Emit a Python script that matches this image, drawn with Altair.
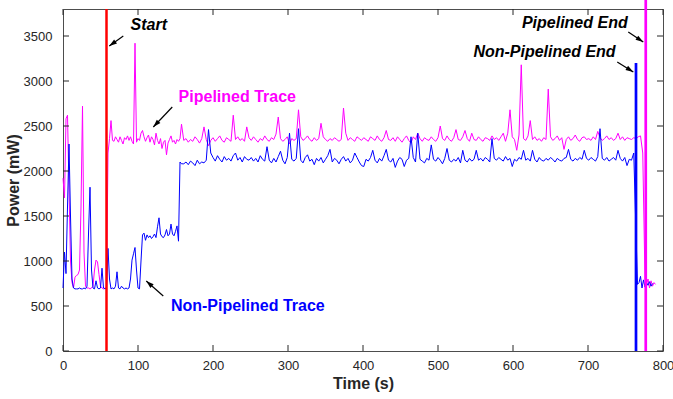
import math
import altair as alt
import pandas as pd

# ---------------- data ----------------
early_time = [0, 2, 4, 6, 8, 10, 12, 14, 16, 18, 20, 22, 24, 26, 28, 30, 32, 34, 36, 38,
              40, 42, 44, 46, 48, 50, 52, 54, 56, 58, 60, 62, 64, 66, 68, 70, 72, 74, 76, 78,
              80, 82, 84, 86, 88, 90, 92, 94, 96, 98, 100, 102, 104, 106, 108, 110, 112, 114, 116, 118,
              120, 122, 124, 126, 128, 130, 132, 134, 136, 138, 140, 142, 144, 146, 148, 150, 152, 154, 156, 158]

main_time = [161, 164, 167, 170, 173, 176, 179, 182, 185, 188,
             191, 194, 197, 200, 203, 206, 209, 212, 215, 218,
             221, 224, 227, 230, 233, 236, 239, 242, 245, 248,
             251, 254, 257, 260, 263, 266, 269, 272, 275, 278,
             281, 284, 287, 290, 293, 296, 299, 302, 305, 308,
             311, 314, 317, 320, 323, 326, 329, 332, 335, 338,
             341, 344, 347, 350, 353, 356, 359, 362, 365, 368,
             371, 374, 377, 380, 383, 386, 389, 392, 395, 398,
             401, 404, 407, 410, 413, 416, 419, 422, 425, 428,
             431, 434, 437, 440, 443, 446, 449, 452, 455, 458,
             461, 464, 467, 470, 473, 476, 479, 482, 485, 488,
             491, 494, 497, 500, 503, 506, 509, 512, 515, 518,
             521, 524, 527, 530, 533, 536, 539, 542, 545, 548,
             551, 554, 557, 560, 563, 566, 569, 572, 575, 578,
             581, 584, 587, 590, 593, 596, 599, 602, 605, 608,
             611, 614, 617, 620, 623, 626, 629, 632, 635, 638,
             641, 644, 647, 650, 653, 656, 659, 662, 665, 668,
             671, 674, 677, 680, 683, 686, 689, 692, 695, 698,
             701, 704, 707, 710, 713, 716, 719, 722, 725, 728,
             731, 734, 737, 740, 743, 746, 749, 752, 755, 758,
             761]

pip_early = [1920, 1700, 2580, 2620, 1800, 1000, 760, 700, 820, 840,
             850, 900, 1600, 2720, 1100, 720, 700, 700, 690, 700,
             720, 900, 1010, 990, 850, 720, 700, 690, 700, 700,
             2200, 2360, 2560, 2340, 2330, 2380, 2350, 2320, 2380, 2340,
             2300, 2370, 2350, 2390, 2340, 2380, 2330, 2300, 3420, 2320,
             2360, 2340, 2420, 2450, 2380, 2330, 2370, 2400, 2320, 2380,
             2350, 2290, 2420, 2340, 2300, 2360, 2250, 2320, 2340, 2180,
             2310, 2350, 2390, 2320, 2340, 2300, 2350, 2330, 2360, 2520]

pip_main = [2340, 2360, 2320, 2350, 2330, 2380, 2350, 2310, 2360, 2490,
            2350, 2280, 2340, 2370, 2330, 2360, 2390, 2340, 2320, 2370,
            2350, 2330, 2620, 2350, 2380, 2340, 2360, 2330, 2490, 2370,
            2340, 2380, 2350, 2320, 2360, 2340, 2390, 2350, 2330, 2370,
            2350, 2410, 2600, 2360, 2330, 2350, 2380, 2300, 2360, 2340,
            2360, 2680, 2380, 2340, 2360, 2390, 2350, 2330, 2370, 2340,
            2360, 2530, 2380, 2350, 2330, 2360, 2340, 2370, 2350, 2330,
            2350, 2700, 2420, 2340, 2370, 2350, 2330, 2380, 2360, 2340,
            2370, 2350, 2330, 2380, 2360, 2340, 2390, 2350, 2330, 2370,
            2450, 2350, 2340, 2370, 2330, 2380, 2350, 2320, 2360, 2390,
            2340, 2310, 2380, 2350, 2420, 2360, 2330, 2370, 2350, 2340,
            2380, 2350, 2330, 2370, 2500, 2360, 2340, 2390, 2350, 2330,
            2370, 2460, 2350, 2340, 2380, 2450, 2360, 2330, 2420, 2350,
            2340, 2380, 2350, 2330, 2370, 2360, 2340, 2390, 2350, 2370,
            2340, 2380, 2420, 2330, 2420, 2680, 2380, 2350, 2230, 2400,
            3180, 2360, 2340, 2390, 2560, 2350, 2380, 2340, 2360, 2330,
            2370, 2350, 2910, 2380, 2340, 2360, 2390, 2340, 2370, 2240,
            2350, 2380, 2340, 2360, 2400, 2350, 2330, 2370, 2380, 2350,
            2360, 2340, 2380, 2350, 2440, 2370, 2340, 2360, 2390, 2350,
            2370, 2340, 2360, 2420, 2350, 2380, 2340, 2370, 2360, 2350,
            2370]

pip_tail_time = [764, 767, 770, 773, 776, 778, 780, 782, 784, 786, 788, 790]
pip_tail = [2360, 2380, 2390, 2200, 800, 740, 800, 700, 780, 720, 760, 740]

np_early = [700, 1100, 860, 1600, 2300, 1500, 800, 700, 690, 690,
            690, 700, 690, 690, 700, 690, 720, 1300, 1820, 900,
            700, 690, 780, 700, 690, 700, 920, 700, 690, 700,
            1140, 800, 690, 700, 690, 720, 880, 700, 690, 720,
            700, 690, 700, 690, 700, 800, 1010, 1080, 1150, 900,
            700, 690, 1000, 1290, 1310, 1230, 1290, 1260, 1280, 1250,
            1270, 1300, 1260, 1380, 1480, 1300, 1270, 1260, 1290, 1350,
            1280, 1300, 1410, 1300, 1280, 1330, 1390, 1220, 2100, 2080]

np_main = [2080, 2100, 2070, 2110, 2090, 2060, 2120, 2080, 2100, 2090,
           2120, 2460, 2200, 2150, 2110, 2170, 2130, 2100, 2160, 2120,
           2140, 2110, 2170, 2200, 2120, 2150, 2100, 2160, 2130, 2120,
           2150, 2110, 2140, 2100, 2170, 2130, 2110, 2270, 2120, 2090,
           2140, 2100, 2160, 2220, 2120, 2080, 2150, 2420, 2130, 2110,
           2140, 2470, 2120, 2090, 2150, 2180, 2110, 2130, 2070, 2140,
           2110, 2150, 2090, 2130, 2170, 2240, 2100, 2140, 2120, 2080,
           2130, 2160, 2110, 2140, 2090, 2120, 2200, 2150, 2100, 2060,
           2050, 2130, 2110, 2150, 2230, 2120, 2090, 2140, 2110, 2170,
           2240, 2120, 2100, 2140, 2040, 2110, 2150, 2130, 2050, 2120,
           2140, 2380, 2150, 2100, 2420, 2130, 2110, 2090, 2140, 2120,
           2290, 2130, 2110, 2150, 2120, 2080, 2140, 2250, 2120, 2100,
           2130, 2110, 2150, 2090, 2230, 2120, 2100, 2140, 2110, 2130,
           2230, 2120, 2140, 2110, 2150, 2130, 2100, 2360, 2140, 2120,
           2150, 2130, 2110, 2160, 2120, 2140, 2050, 2130, 2110, 2150,
           2130, 2230, 2120, 2140, 2110, 2230, 2130, 2100, 2150, 2120,
           2110, 2140, 2120, 2150, 2130, 2100, 2140, 2120, 2110, 2140,
           2150, 2240, 2130, 2110, 2140, 2120, 2150, 2130, 2230, 2140,
           2120, 2150, 2130, 2110, 2160, 2470, 2140, 2120, 2150, 2110,
           2130, 2150, 2120, 2230, 2140, 2110, 2150, 2060, 2130, 2120,
           2200]

np_tail_time = [766, 768, 770, 772, 774, 776, 778, 780, 782, 784, 786]
np_tail = [740, 760, 830, 700, 790, 710, 760, 730, 770, 720, 750]

start_time = 58
np_end_time = 764
np_end_peak = 3200
pip_end_time = 777
pip_end_peak = 3900

x_ticks = [0, 100, 200, 300, 400, 500, 600, 700, 800]
y_ticks = [0, 500, 1000, 1500, 2000, 2500, 3000, 3500]

ann_text = ["Start", "Pipelined Trace", "Non-Pipelined Trace", "Pipelined End", "Non-Pipelined End"]
ann_x = [114.4, 232.4, 246.4, 682.4, 642.0]
ann_y = [3622, 2817, 500, 3650, 3317]
ann_color = ["black", "#FF00FF", "#0000FF", "black", "black"]
ann_style = ["italic", "normal", "normal", "italic", "italic"]

arrow_x1 = [80.4, 145.7, 133.7, 753.7, 739.0]
arrow_y1 = [3500, 2711, 611, 3544, 3211]
arrow_x2 = [61.7, 120.4, 111.0, 773.7, 760.4]
arrow_y2 = [3389, 2489, 778, 3433, 3100]

# ---------------- layout ----------------
W, H = 600, 342
XMAX, YMAX = 800, 3800
FONT = "Liberation Sans"

xs = alt.Scale(domain=[0, XMAX], nice=False, zero=False)
ys = alt.Scale(domain=[0, YMAX], nice=False)

pip_df = pd.DataFrame({"t": early_time + main_time + pip_tail_time,
                       "p": pip_early + pip_main + pip_tail})
np_df = pd.DataFrame({"t": early_time + main_time + np_tail_time,
                      "p": np_early + np_main + np_tail})

x_axis = alt.Axis(values=x_ticks, title="Time (s)", grid=False, ticks=False, domain=False,
                  labelFont=FONT, labelFontSize=13, labelColor="#262626", labelPadding=8,
                  titleFont=FONT, titleFontSize=16, titleFontWeight="bold", titleColor="#262626",
                  titlePadding=3, labelFlush=False)
y_axis = alt.Axis(values=y_ticks, title="Power (mW)", grid=False, ticks=False, domain=False,
                  labelFont=FONT, labelFontSize=13, labelColor="#262626", labelPadding=11,
                  titleFont=FONT, titleFontSize=16, titleFontWeight="bold", titleColor="#262626",
                  titlePadding=2, format="d", labelFlush=False)

base_axes = alt.Chart(pd.DataFrame({"t": [0], "p": [0]})).mark_point(opacity=0).encode(
    x=alt.X("t:Q", scale=xs, axis=x_axis),
    y=alt.Y("p:Q", scale=ys, axis=y_axis),
)

pip_line = alt.Chart(pip_df).mark_line(color="#FF00FF", strokeWidth=1).encode(
    x=alt.X("t:Q", scale=xs), y=alt.Y("p:Q", scale=ys), order="t:Q")
np_line = alt.Chart(np_df).mark_line(color="#0000FF", strokeWidth=1).encode(
    x=alt.X("t:Q", scale=xs), y=alt.Y("p:Q", scale=ys), order="t:Q")

start_rule = alt.Chart(pd.DataFrame({"t": [start_time], "lo": [0], "hi": [YMAX]})).mark_rule(
    color="#FF0000", strokeWidth=2.5).encode(
    x=alt.X("t:Q", scale=xs), y=alt.Y("lo:Q", scale=ys), y2="hi:Q")
np_end_rule = alt.Chart(pd.DataFrame({"t": [np_end_time], "lo": [0], "hi": [np_end_peak]})).mark_rule(
    color="#0000FF", strokeWidth=2.7).encode(
    x=alt.X("t:Q", scale=xs), y=alt.Y("lo:Q", scale=ys), y2="hi:Q")
pip_end_rule = alt.Chart(pd.DataFrame({"t": [pip_end_time], "lo": [0], "hi": [pip_end_peak]})).mark_rule(
    color="#FF00FF", strokeWidth=2.7, clip=False).encode(
    x=alt.X("t:Q", scale=xs), y=alt.Y("lo:Q", scale=ys), y2="hi:Q")

# inward ticks (MATLAB style box)
TL = 6
xt = pd.DataFrame({"t": x_ticks})
yt = pd.DataFrame({"p": y_ticks})
tick_col = "#262626"
xb = alt.Chart(xt).mark_rule(color=tick_col, strokeWidth=1).encode(
    x=alt.X("t:Q", scale=xs), y=alt.value(H), y2=alt.value(H - TL))
xtop = alt.Chart(xt).mark_rule(color=tick_col, strokeWidth=1).encode(
    x=alt.X("t:Q", scale=xs), y=alt.value(0), y2=alt.value(TL))
yl = alt.Chart(yt).mark_rule(color=tick_col, strokeWidth=1).encode(
    y=alt.Y("p:Q", scale=ys), x=alt.value(0), x2=alt.value(TL))
yr = alt.Chart(yt).mark_rule(color=tick_col, strokeWidth=1).encode(
    y=alt.Y("p:Q", scale=ys), x=alt.value(W), x2=alt.value(W - TL))

# annotations
ann_df = pd.DataFrame({"text": ann_text, "x": ann_x, "y": ann_y,
                       "color": ann_color, "style": ann_style})
texts = []
for i in range(len(ann_text)):
    texts.append(alt.Chart(ann_df.iloc[[i]]).mark_text(
        font=FONT, fontSize=16, fontWeight="bold", fontStyle=ann_style[i],
        color=ann_color[i], align="center", baseline="middle").encode(
        x=alt.X("x:Q", scale=xs), y=alt.Y("y:Q", scale=ys), text="text:N"))

sx = W / XMAX
sy = H / YMAX
angles = []
for a, b, c, d in zip(arrow_x1, arrow_y1, arrow_x2, arrow_y2):
    dx = (c - a) * sx
    dy = -(d - b) * sy
    angles.append(math.degrees(math.atan2(dx, -dy)) % 360)

arr_df = pd.DataFrame({"x1": arrow_x1, "y1": arrow_y1, "x2": arrow_x2, "y2": arrow_y2, "ang": angles})
arrow_lines = alt.Chart(arr_df).mark_rule(color="black", strokeWidth=1.2).encode(
    x=alt.X("x1:Q", scale=xs), y=alt.Y("y1:Q", scale=ys), x2="x2:Q", y2="y2:Q")
arrow_heads = alt.Chart(arr_df).mark_point(
    shape="M0,0L0.45,1.4L-0.45,1.4Z", filled=True, color="black", opacity=1, size=121).encode(
    x=alt.X("x2:Q", scale=xs), y=alt.Y("y2:Q", scale=ys), angle=alt.Angle("ang:Q", scale=None))

chart = alt.layer(
    base_axes, pip_line, np_line, start_rule, np_end_rule, pip_end_rule,
    xb, xtop, yl, yr, arrow_lines, arrow_heads, *texts
).properties(
    width=W, height=H,
    autosize=alt.AutoSizeParams(type="none"),
    padding={"left": 63, "top": 9, "right": 10, "bottom": 48},
    background="white",
).configure_view(stroke="#4d4d4d", strokeWidth=1)

chart.save("out.html", embed_options={"renderer": "svg", "actions": False})
